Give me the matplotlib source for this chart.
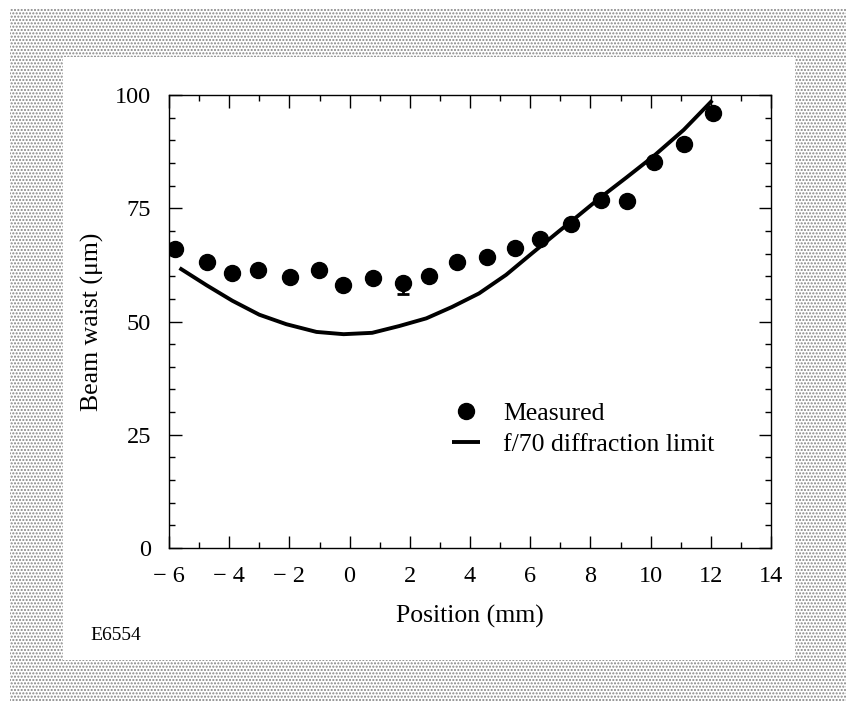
import matplotlib
matplotlib.use("Agg")
import matplotlib.pyplot as plt
from matplotlib.patches import Rectangle
from matplotlib.ticker import MultipleLocator, FuncFormatter

# measured beam waist (um) vs position (mm)
meas_x = [-5.8, -4.75, -3.92, -3.03, -1.98, -1.03, -0.21, 0.78, 1.79, 2.63,
          3.58, 4.57, 5.49, 6.34, 7.34, 8.35, 9.2, 10.12, 11.12, 12.08]
meas_y = [65.9, 63.1, 60.6, 61.3, 59.8, 61.3, 58.0, 59.7, 58.4, 60.0,
          63.1, 64.3, 66.3, 68.3, 71.6, 76.8, 76.7, 85.1, 89.1, 96.1]

# single point carrying an error bar
err_x = [1.79]
err_y = [58.4]
err_lo = [2.4]
err_hi = [1.0]

# f/70 diffraction limit curve
lim_x = [-5.65, -4.75, -3.9, -3.0, -2.1, -1.1, -0.2, 0.75, 1.65, 2.55, 3.4,
         4.3, 5.2, 6.05, 6.95, 7.4, 8.3, 9.2, 10.1, 11.1, 12.05]
lim_y = [61.8, 58.0, 54.6, 51.5, 49.4, 47.7, 47.2, 47.5, 49.0, 50.7, 53.2,
         56.2, 60.3, 65.0, 69.9, 72.3, 77.2, 81.8, 86.5, 92.3, 98.8]

plt.rcParams["font.family"] = ["Liberation Serif", "DejaVu Serif"]
plt.rcParams["hatch.linewidth"] = 1.0

fig = plt.figure(figsize=(8.46, 7.02), dpi=100)
W, H = 846.0, 702.0

# halftone frame
fig.patches.append(Rectangle((10 / W, 0), 836 / W, 694 / H, transform=fig.transFigure,
                             facecolor="white", edgecolor="#858585", hatch=".....",
                             lw=0, zorder=-10))
fig.patches.append(Rectangle((63 / W, 1 - 660 / H), (795 - 63) / W, (660 - 57) / H,
                             transform=fig.transFigure, facecolor="white",
                             edgecolor="none", zorder=-9))

ax = fig.add_axes([169 / W, 1 - 548 / H, (771 - 169) / W, (548 - 95) / H])
ax.set_facecolor("none")

ax.plot(lim_x, lim_y, color="black", lw=2.8, solid_capstyle="butt",
        label="f/70 diffraction limit")
ax.plot(meas_x, meas_y, "o", color="black", ms=11.5, label="Measured")
ax.errorbar(err_x, err_y, yerr=[err_lo, err_hi], fmt="none", ecolor="black",
            elinewidth=2, capsize=4, capthick=2)

ax.set_xlim(-6, 14)
ax.set_ylim(0, 100)
ax.xaxis.set_major_locator(MultipleLocator(2))
ax.xaxis.set_minor_locator(MultipleLocator(1))
ax.yaxis.set_major_locator(MultipleLocator(25))
ax.yaxis.set_minor_locator(MultipleLocator(5))
ax.xaxis.set_major_formatter(FuncFormatter(
    lambda v, p: ("\u2212 %d" % -v) if v < 0 else "%d" % v))

ax.tick_params(which="both", direction="in", top=True, right=True,
               labelsize=17.5, width=1.0, color="black")
ax.tick_params(which="major", length=9, pad=13)
ax.tick_params(which="minor", length=4.5)
for s in ax.spines.values():
    s.set_linewidth(1.0)

ax.set_xlabel("Position (mm)", fontsize=18.5, labelpad=13)
ax.set_ylabel("Beam waist (\u03bcm)", fontsize=18.5, labelpad=8)

h, l = ax.get_legend_handles_labels()
ax.legend([h[1], h[0]], [l[1], l[0]], loc="upper left",
          bbox_to_anchor=(0.47, 0.322), frameon=False, fontsize=18.5,
          handlelength=1.1, handletextpad=0.9, borderpad=0, borderaxespad=0,
          labelspacing=0.3, numpoints=1)

fig.text(90 / W, 1 - 636 / H, "E6554", fontsize=14, va="center", ha="left")

fig.savefig("out.png", dpi=100)
